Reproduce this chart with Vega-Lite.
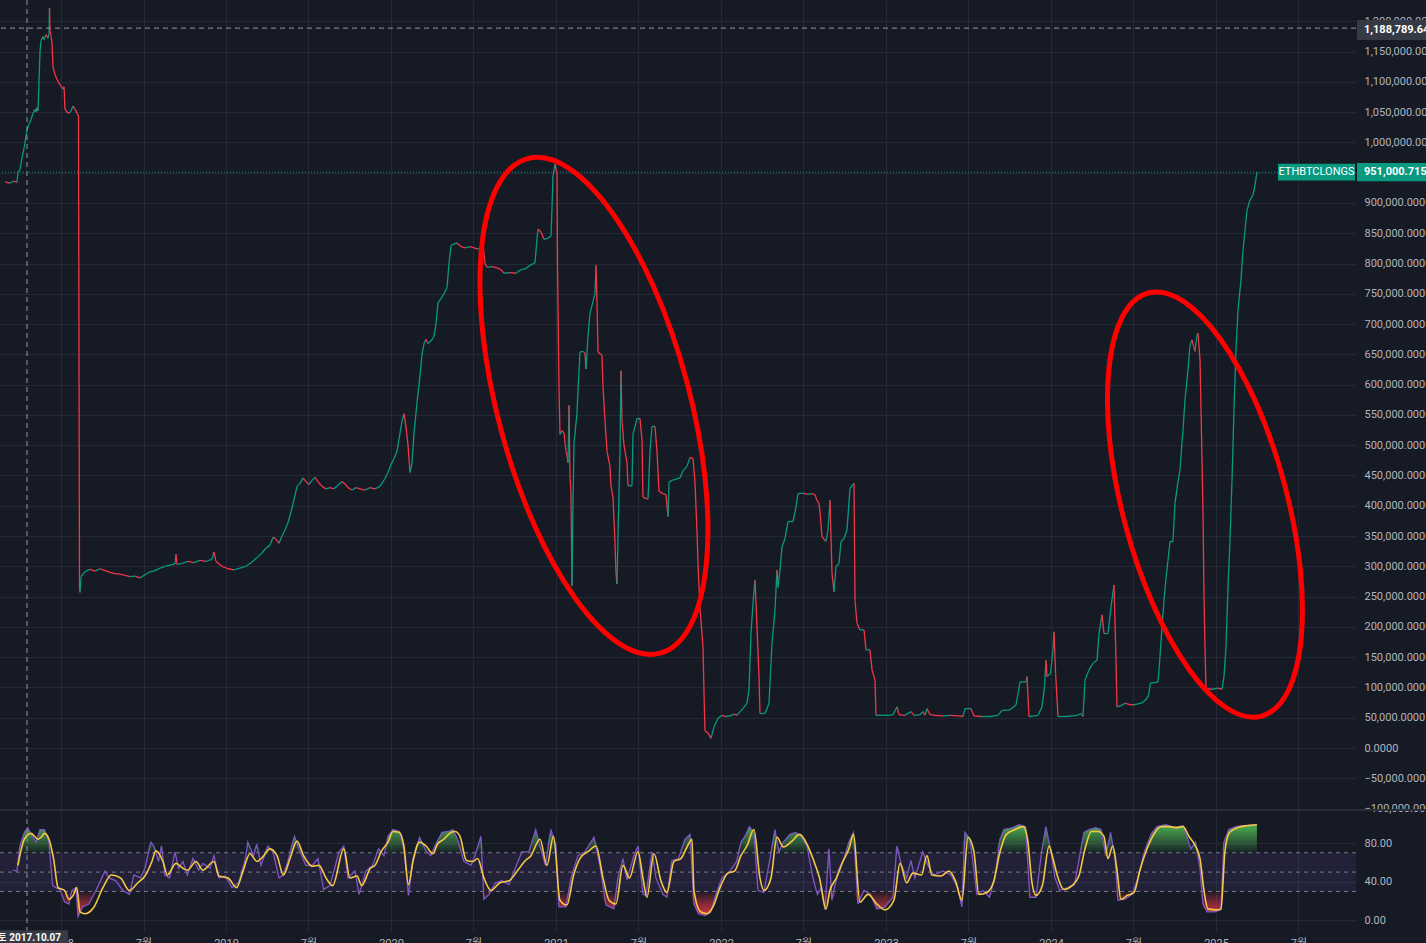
{
  "$schema": "https://vega.github.io/schema/vega-lite/v6.json",
  "width": 1356,
  "height": 932,
  "autosize": {"type": "none"},
  "padding": {"left": 0, "top": 0, "right": 70, "bottom": 11},
  "background": "#161a25",
  "config": {
    "view": {"stroke": null},
    "font": "Roboto, 'Noto Sans CJK KR', sans-serif",
    "axis": {"labelColor": "#b2b5be", "labelFontSize": 11, "gridColor": "#252936", "gridWidth": 1, "domain": false, "ticks": false}
  },
  "datasets": {
    "price": [
      {"t":2017.6606,"v":935000},{"t":2017.6909,"v":933000},{"t":2017.7151,"v":936000},{"t":2017.7333,"v":934000},{"t":2017.7394,"v":951000},{"t":2017.7515,"v":955000},{"t":2017.7636,"v":975000},{"t":2017.7758,"v":990000},{"t":2017.7818,"v":1000000},{"t":2017.7939,"v":1020000},{"t":2017.8061,"v":1030000},{"t":2017.8182,"v":1038000},{"t":2017.8303,"v":1048000},{"t":2017.8424,"v":1055000},{"t":2017.8485,"v":1050000},{"t":2017.8545,"v":1058000},{"t":2017.8606,"v":1052000},{"t":2017.8667,"v":1100000},{"t":2017.8727,"v":1150000},{"t":2017.8788,"v":1168000},{"t":2017.8909,"v":1175000},{"t":2017.8970,"v":1170000},{"t":2017.9091,"v":1178000},{"t":2017.9212,"v":1172000},{"t":2017.9273,"v":1180000},{"t":2017.9303,"v":1222000},{"t":2017.9333,"v":1185000},{"t":2017.9394,"v":1175000},{"t":2017.9455,"v":1165000},{"t":2017.9515,"v":1125000},{"t":2017.9636,"v":1112000},{"t":2017.9758,"v":1104000},{"t":2017.9879,"v":1098000},{"t":2018.0000,"v":1093000},{"t":2018.0121,"v":1088000},{"t":2018.0182,"v":1092000},{"t":2018.0242,"v":1055000},{"t":2018.0364,"v":1050000},{"t":2018.0485,"v":1048000},{"t":2018.0606,"v":1052000},{"t":2018.0727,"v":1060000},{"t":2018.0848,"v":1055000},{"t":2018.0970,"v":1048000},{"t":2018.1061,"v":1044000},{"t":2018.1121,"v":262000},{"t":2018.1152,"v":257000},{"t":2018.1212,"v":282000},{"t":2018.1333,"v":288000},{"t":2018.1515,"v":292000},{"t":2018.1758,"v":295000},{"t":2018.2061,"v":292000},{"t":2018.2364,"v":296000},{"t":2018.2667,"v":293000},{"t":2018.2970,"v":290000},{"t":2018.3273,"v":288000},{"t":2018.3576,"v":287000},{"t":2018.3879,"v":285000},{"t":2018.4182,"v":283000},{"t":2018.4485,"v":284000},{"t":2018.4788,"v":281000},{"t":2018.5091,"v":286000},{"t":2018.5394,"v":291000},{"t":2018.5697,"v":293000},{"t":2018.6000,"v":297000},{"t":2018.6303,"v":300000},{"t":2018.6606,"v":302000},{"t":2018.6909,"v":304000},{"t":2018.6970,"v":320000},{"t":2018.7030,"v":303000},{"t":2018.7333,"v":305000},{"t":2018.7697,"v":308000},{"t":2018.8061,"v":306000},{"t":2018.8424,"v":310000},{"t":2018.8788,"v":308000},{"t":2018.9152,"v":312000},{"t":2018.9273,"v":324000},{"t":2018.9394,"v":308000},{"t":2018.9758,"v":300000},{"t":2019.0121,"v":296000},{"t":2019.0485,"v":294000},{"t":2019.0848,"v":297000},{"t":2019.1212,"v":300000},{"t":2019.1576,"v":307000},{"t":2019.1939,"v":316000},{"t":2019.2182,"v":322000},{"t":2019.2424,"v":330000},{"t":2019.2667,"v":335000},{"t":2019.2848,"v":348000},{"t":2019.3030,"v":345000},{"t":2019.3212,"v":338000},{"t":2019.3394,"v":350000},{"t":2019.3576,"v":360000},{"t":2019.3758,"v":372000},{"t":2019.3939,"v":390000},{"t":2019.4121,"v":410000},{"t":2019.4303,"v":432000},{"t":2019.4485,"v":437000},{"t":2019.4667,"v":446000},{"t":2019.4848,"v":440000},{"t":2019.5030,"v":435000},{"t":2019.5212,"v":442000},{"t":2019.5394,"v":447000},{"t":2019.5576,"v":440000},{"t":2019.5818,"v":432000},{"t":2019.6061,"v":428000},{"t":2019.6303,"v":430000},{"t":2019.6545,"v":428000},{"t":2019.6788,"v":434000},{"t":2019.7030,"v":440000},{"t":2019.7212,"v":436000},{"t":2019.7394,"v":430000},{"t":2019.7636,"v":426000},{"t":2019.7879,"v":430000},{"t":2019.8121,"v":428000},{"t":2019.8424,"v":426000},{"t":2019.8727,"v":430000},{"t":2019.9030,"v":428000},{"t":2019.9333,"v":432000},{"t":2019.9636,"v":445000},{"t":2019.9818,"v":455000},{"t":2020.0000,"v":468000},{"t":2020.0182,"v":478000},{"t":2020.0364,"v":490000},{"t":2020.0545,"v":520000},{"t":2020.0667,"v":540000},{"t":2020.0788,"v":552000},{"t":2020.0909,"v":530000},{"t":2020.1030,"v":500000},{"t":2020.1152,"v":455000},{"t":2020.1273,"v":470000},{"t":2020.1394,"v":520000},{"t":2020.1576,"v":570000},{"t":2020.1758,"v":615000},{"t":2020.1879,"v":650000},{"t":2020.2000,"v":668000},{"t":2020.2121,"v":675000},{"t":2020.2242,"v":668000},{"t":2020.2424,"v":672000},{"t":2020.2606,"v":680000},{"t":2020.2727,"v":700000},{"t":2020.2848,"v":735000},{"t":2020.3030,"v":742000},{"t":2020.3212,"v":750000},{"t":2020.3394,"v":760000},{"t":2020.3515,"v":800000},{"t":2020.3636,"v":830000},{"t":2020.3818,"v":832000},{"t":2020.4000,"v":834000},{"t":2020.4242,"v":828000},{"t":2020.4485,"v":826000},{"t":2020.4788,"v":828000},{"t":2020.5030,"v":826000},{"t":2020.5273,"v":824000},{"t":2020.5455,"v":826000},{"t":2020.5576,"v":833000},{"t":2020.5697,"v":800000},{"t":2020.5818,"v":794000},{"t":2020.6121,"v":795000},{"t":2020.6424,"v":793000},{"t":2020.6667,"v":790000},{"t":2020.6848,"v":784000},{"t":2020.7212,"v":785000},{"t":2020.7576,"v":784000},{"t":2020.7818,"v":789000},{"t":2020.8182,"v":792000},{"t":2020.8424,"v":797000},{"t":2020.8727,"v":801000},{"t":2020.8848,"v":841000},{"t":2020.8909,"v":857000},{"t":2020.9091,"v":852000},{"t":2020.9273,"v":840000},{"t":2020.9515,"v":842000},{"t":2020.9697,"v":845000},{"t":2020.9758,"v":892000},{"t":2020.9818,"v":945000},{"t":2020.9939,"v":964000},{"t":2021.0061,"v":949000},{"t":2021.0091,"v":800000},{"t":2021.0182,"v":594000},{"t":2021.0242,"v":518000},{"t":2021.0364,"v":524000},{"t":2021.0485,"v":520000},{"t":2021.0606,"v":490000},{"t":2021.0667,"v":483000},{"t":2021.0727,"v":471000},{"t":2021.0788,"v":566000},{"t":2021.0848,"v":450000},{"t":2021.0909,"v":420000},{"t":2021.0970,"v":268000},{"t":2021.1030,"v":401000},{"t":2021.1091,"v":503000},{"t":2021.1273,"v":553000},{"t":2021.1333,"v":591000},{"t":2021.1455,"v":654000},{"t":2021.1636,"v":655000},{"t":2021.1758,"v":652000},{"t":2021.1818,"v":626000},{"t":2021.1939,"v":680000},{"t":2021.2061,"v":718000},{"t":2021.2242,"v":737000},{"t":2021.2364,"v":750000},{"t":2021.2424,"v":797000},{"t":2021.2485,"v":737000},{"t":2021.2545,"v":654000},{"t":2021.2727,"v":650000},{"t":2021.2788,"v":648000},{"t":2021.2848,"v":597000},{"t":2021.2970,"v":540000},{"t":2021.3091,"v":490000},{"t":2021.3273,"v":465000},{"t":2021.3333,"v":433000},{"t":2021.3455,"v":414000},{"t":2021.3576,"v":338000},{"t":2021.3636,"v":290000},{"t":2021.3697,"v":271000},{"t":2021.3758,"v":351000},{"t":2021.3879,"v":490000},{"t":2021.3939,"v":623000},{"t":2021.4000,"v":541000},{"t":2021.4121,"v":500000},{"t":2021.4303,"v":471000},{"t":2021.4364,"v":433000},{"t":2021.4606,"v":433000},{"t":2021.4667,"v":518000},{"t":2021.4909,"v":544000},{"t":2021.5091,"v":544000},{"t":2021.5212,"v":509000},{"t":2021.5273,"v":414000},{"t":2021.5576,"v":411000},{"t":2021.5697,"v":490000},{"t":2021.5818,"v":531000},{"t":2021.6000,"v":531000},{"t":2021.6121,"v":490000},{"t":2021.6242,"v":424000},{"t":2021.6485,"v":420000},{"t":2021.6667,"v":418000},{"t":2021.6788,"v":382000},{"t":2021.6848,"v":439000},{"t":2021.7030,"v":442000},{"t":2021.7273,"v":444000},{"t":2021.7515,"v":446000},{"t":2021.7697,"v":458000},{"t":2021.7939,"v":465000},{"t":2021.8121,"v":480000},{"t":2021.8303,"v":478000},{"t":2021.8424,"v":439000},{"t":2021.8545,"v":357000},{"t":2021.8606,"v":306000},{"t":2021.8727,"v":230000},{"t":2021.8909,"v":167000},{"t":2021.8970,"v":91000},{"t":2021.9030,"v":28000},{"t":2021.9212,"v":25000},{"t":2021.9394,"v":16000},{"t":2021.9455,"v":22000},{"t":2021.9576,"v":35000},{"t":2021.9818,"v":49000},{"t":2022.0061,"v":54000},{"t":2022.0303,"v":52000},{"t":2022.0545,"v":53000},{"t":2022.0788,"v":56000},{"t":2022.0970,"v":54000},{"t":2022.1152,"v":60000},{"t":2022.1333,"v":65000},{"t":2022.1576,"v":74000},{"t":2022.1697,"v":96000},{"t":2022.1818,"v":189000},{"t":2022.1939,"v":239000},{"t":2022.2061,"v":277000},{"t":2022.2182,"v":200000},{"t":2022.2303,"v":118000},{"t":2022.2364,"v":57000},{"t":2022.2667,"v":57000},{"t":2022.2909,"v":74000},{"t":2022.3091,"v":173000},{"t":2022.3273,"v":228000},{"t":2022.3394,"v":294000},{"t":2022.3455,"v":265000},{"t":2022.3576,"v":294000},{"t":2022.3697,"v":332000},{"t":2022.3879,"v":346000},{"t":2022.4061,"v":374000},{"t":2022.4364,"v":374000},{"t":2022.4545,"v":398000},{"t":2022.4667,"v":420000},{"t":2022.4970,"v":421000},{"t":2022.5273,"v":419000},{"t":2022.5515,"v":420000},{"t":2022.5697,"v":418000},{"t":2022.5818,"v":409000},{"t":2022.5939,"v":404000},{"t":2022.6000,"v":390000},{"t":2022.6121,"v":349000},{"t":2022.6364,"v":341000},{"t":2022.6485,"v":360000},{"t":2022.6606,"v":409000},{"t":2022.6727,"v":288000},{"t":2022.6848,"v":258000},{"t":2022.6970,"v":299000},{"t":2022.7152,"v":305000},{"t":2022.7273,"v":341000},{"t":2022.7455,"v":346000},{"t":2022.7636,"v":360000},{"t":2022.7818,"v":429000},{"t":2022.8061,"v":437000},{"t":2022.8121,"v":244000},{"t":2022.8242,"v":206000},{"t":2022.8424,"v":195000},{"t":2022.8667,"v":195000},{"t":2022.8788,"v":162000},{"t":2022.9030,"v":162000},{"t":2022.9152,"v":129000},{"t":2022.9333,"v":112000},{"t":2022.9394,"v":54000},{"t":2022.9758,"v":54000},{"t":2023.0121,"v":54000},{"t":2023.0424,"v":55000},{"t":2023.0667,"v":68000},{"t":2023.0788,"v":55000},{"t":2023.1152,"v":54000},{"t":2023.1515,"v":60000},{"t":2023.1697,"v":54000},{"t":2023.2061,"v":55000},{"t":2023.2242,"v":60000},{"t":2023.2364,"v":54000},{"t":2023.2485,"v":65000},{"t":2023.2667,"v":55000},{"t":2023.2970,"v":54000},{"t":2023.3455,"v":53000},{"t":2023.3879,"v":54000},{"t":2023.4424,"v":53000},{"t":2023.4667,"v":52000},{"t":2023.4788,"v":65000},{"t":2023.5152,"v":65000},{"t":2023.5333,"v":53000},{"t":2023.5818,"v":52000},{"t":2023.6303,"v":52000},{"t":2023.6788,"v":54000},{"t":2023.7030,"v":62000},{"t":2023.7515,"v":63000},{"t":2023.7879,"v":71000},{"t":2023.8121,"v":109000},{"t":2023.8485,"v":109000},{"t":2023.8545,"v":118000},{"t":2023.8667,"v":52000},{"t":2023.8970,"v":53000},{"t":2023.9212,"v":54000},{"t":2023.9455,"v":68000},{"t":2023.9606,"v":101000},{"t":2023.9697,"v":145000},{"t":2023.9758,"v":118000},{"t":2023.9970,"v":123000},{"t":2024.0121,"v":162000},{"t":2024.0182,"v":192000},{"t":2024.0279,"v":123000},{"t":2024.0424,"v":52000},{"t":2024.0848,"v":52000},{"t":2024.1273,"v":53000},{"t":2024.1576,"v":54000},{"t":2024.1818,"v":57000},{"t":2024.1939,"v":52000},{"t":2024.2061,"v":112000},{"t":2024.2303,"v":129000},{"t":2024.2545,"v":140000},{"t":2024.2788,"v":145000},{"t":2024.2909,"v":189000},{"t":2024.3091,"v":220000},{"t":2024.3212,"v":189000},{"t":2024.3455,"v":189000},{"t":2024.3636,"v":233000},{"t":2024.3818,"v":269000},{"t":2024.3921,"v":167000},{"t":2024.4000,"v":68000},{"t":2024.4242,"v":70000},{"t":2024.4485,"v":74000},{"t":2024.4727,"v":72000},{"t":2024.4970,"v":71000},{"t":2024.5273,"v":73000},{"t":2024.5552,"v":75000},{"t":2024.5758,"v":80000},{"t":2024.5909,"v":87000},{"t":2024.6030,"v":107000},{"t":2024.6242,"v":108000},{"t":2024.6485,"v":109000},{"t":2024.6606,"v":151000},{"t":2024.6727,"v":200000},{"t":2024.6848,"v":244000},{"t":2024.6970,"v":280000},{"t":2024.7091,"v":310000},{"t":2024.7212,"v":341000},{"t":2024.7394,"v":341000},{"t":2024.7515,"v":404000},{"t":2024.7697,"v":440000},{"t":2024.7818,"v":459000},{"t":2024.7939,"v":505000},{"t":2024.8000,"v":525000},{"t":2024.8121,"v":575000},{"t":2024.8303,"v":624000},{"t":2024.8424,"v":665000},{"t":2024.8545,"v":674000},{"t":2024.8727,"v":655000},{"t":2024.8848,"v":682000},{"t":2024.8909,"v":685000},{"t":2024.9030,"v":641000},{"t":2024.9091,"v":560000},{"t":2024.9212,"v":390000},{"t":2024.9273,"v":250000},{"t":2024.9333,"v":167000},{"t":2024.9394,"v":98000},{"t":2024.9758,"v":97000},{"t":2025.0121,"v":99000},{"t":2025.0364,"v":97000},{"t":2025.0485,"v":118000},{"t":2025.0606,"v":167000},{"t":2025.0727,"v":266000},{"t":2025.0848,"v":343000},{"t":2025.0970,"v":442000},{"t":2025.1091,"v":560000},{"t":2025.1212,"v":657000},{"t":2025.1333,"v":723000},{"t":2025.1515,"v":773000},{"t":2025.1636,"v":822000},{"t":2025.1758,"v":855000},{"t":2025.1879,"v":888000},{"t":2025.2061,"v":905000},{"t":2025.2242,"v":913000},{"t":2025.2364,"v":930000},{"t":2025.2485,"v":951000}
    ],
    "rsi": [
      {"t":2017.709,"r":52},{"t":2017.733,"r":51},{"t":2017.751,"r":77},{"t":2017.778,"r":91},{"t":2017.798,"r":96},{"t":2017.818,"r":89},{"t":2017.848,"r":81},{"t":2017.872,"r":94},{"t":2017.900,"r":94},{"t":2017.927,"r":81},{"t":2017.949,"r":36},{"t":2017.968,"r":34},{"t":2017.994,"r":32},{"t":2018.022,"r":19},{"t":2018.048,"r":17},{"t":2018.066,"r":31},{"t":2018.091,"r":34},{"t":2018.103,"r":4},{"t":2018.131,"r":14},{"t":2018.169,"r":17},{"t":2018.212,"r":31},{"t":2018.266,"r":51},{"t":2018.291,"r":44},{"t":2018.333,"r":41},{"t":2018.375,"r":31},{"t":2018.415,"r":27},{"t":2018.442,"r":47},{"t":2018.482,"r":44},{"t":2018.509,"r":54},{"t":2018.545,"r":81},{"t":2018.563,"r":77},{"t":2018.591,"r":61},{"t":2018.609,"r":77},{"t":2018.630,"r":47},{"t":2018.658,"r":44},{"t":2018.691,"r":71},{"t":2018.712,"r":54},{"t":2018.739,"r":61},{"t":2018.766,"r":47},{"t":2018.800,"r":64},{"t":2018.834,"r":52},{"t":2018.860,"r":59},{"t":2018.903,"r":54},{"t":2018.927,"r":67},{"t":2018.957,"r":44},{"t":2018.996,"r":46},{"t":2019.036,"r":34},{"t":2019.077,"r":39},{"t":2019.118,"r":64},{"t":2019.132,"r":81},{"t":2019.167,"r":67},{"t":2019.186,"r":79},{"t":2019.212,"r":57},{"t":2019.254,"r":77},{"t":2019.285,"r":71},{"t":2019.321,"r":44},{"t":2019.348,"r":47},{"t":2019.375,"r":61},{"t":2019.415,"r":87},{"t":2019.442,"r":74},{"t":2019.483,"r":57},{"t":2019.524,"r":57},{"t":2019.557,"r":64},{"t":2019.592,"r":32},{"t":2019.630,"r":36},{"t":2019.685,"r":71},{"t":2019.714,"r":77},{"t":2019.739,"r":44},{"t":2019.782,"r":51},{"t":2019.806,"r":27},{"t":2019.848,"r":51},{"t":2019.889,"r":57},{"t":2019.925,"r":74},{"t":2019.957,"r":67},{"t":2019.982,"r":87},{"t":2020.012,"r":94},{"t":2020.051,"r":92},{"t":2020.078,"r":74},{"t":2020.106,"r":26},{"t":2020.133,"r":64},{"t":2020.173,"r":86},{"t":2020.212,"r":72},{"t":2020.241,"r":67},{"t":2020.266,"r":77},{"t":2020.309,"r":91},{"t":2020.349,"r":92},{"t":2020.375,"r":94},{"t":2020.403,"r":84},{"t":2020.442,"r":61},{"t":2020.485,"r":57},{"t":2020.509,"r":67},{"t":2020.545,"r":87},{"t":2020.563,"r":22},{"t":2020.594,"r":27},{"t":2020.633,"r":39},{"t":2020.672,"r":41},{"t":2020.715,"r":37},{"t":2020.769,"r":61},{"t":2020.794,"r":71},{"t":2020.836,"r":71},{"t":2020.877,"r":94},{"t":2020.903,"r":77},{"t":2020.936,"r":57},{"t":2020.969,"r":94},{"t":2021.000,"r":77},{"t":2021.018,"r":14},{"t":2021.060,"r":14},{"t":2021.091,"r":44},{"t":2021.133,"r":67},{"t":2021.175,"r":71},{"t":2021.230,"r":86},{"t":2021.266,"r":57},{"t":2021.303,"r":16},{"t":2021.351,"r":12},{"t":2021.375,"r":44},{"t":2021.406,"r":64},{"t":2021.430,"r":42},{"t":2021.472,"r":67},{"t":2021.497,"r":77},{"t":2021.527,"r":27},{"t":2021.545,"r":26},{"t":2021.582,"r":71},{"t":2021.606,"r":44},{"t":2021.648,"r":27},{"t":2021.672,"r":24},{"t":2021.703,"r":62},{"t":2021.743,"r":64},{"t":2021.782,"r":84},{"t":2021.812,"r":89},{"t":2021.836,"r":17},{"t":2021.863,"r":7},{"t":2021.903,"r":5},{"t":2021.939,"r":9},{"t":2021.969,"r":27},{"t":2022.006,"r":44},{"t":2022.054,"r":51},{"t":2022.095,"r":61},{"t":2022.121,"r":81},{"t":2022.145,"r":87},{"t":2022.172,"r":97},{"t":2022.200,"r":91},{"t":2022.224,"r":31},{"t":2022.260,"r":29},{"t":2022.297,"r":64},{"t":2022.327,"r":94},{"t":2022.351,"r":71},{"t":2022.378,"r":81},{"t":2022.418,"r":89},{"t":2022.454,"r":91},{"t":2022.485,"r":87},{"t":2022.521,"r":77},{"t":2022.557,"r":44},{"t":2022.584,"r":27},{"t":2022.610,"r":34},{"t":2022.630,"r":11},{"t":2022.654,"r":74},{"t":2022.672,"r":21},{"t":2022.709,"r":51},{"t":2022.745,"r":64},{"t":2022.775,"r":81},{"t":2022.803,"r":91},{"t":2022.830,"r":17},{"t":2022.866,"r":31},{"t":2022.906,"r":27},{"t":2022.945,"r":12},{"t":2022.994,"r":14},{"t":2023.042,"r":24},{"t":2023.066,"r":77},{"t":2023.094,"r":57},{"t":2023.125,"r":44},{"t":2023.151,"r":62},{"t":2023.175,"r":44},{"t":2023.223,"r":71},{"t":2023.254,"r":57},{"t":2023.291,"r":47},{"t":2023.345,"r":51},{"t":2023.394,"r":47},{"t":2023.434,"r":34},{"t":2023.460,"r":14},{"t":2023.478,"r":91},{"t":2023.509,"r":84},{"t":2023.551,"r":27},{"t":2023.588,"r":31},{"t":2023.627,"r":24},{"t":2023.660,"r":44},{"t":2023.691,"r":84},{"t":2023.715,"r":94},{"t":2023.769,"r":96},{"t":2023.806,"r":99},{"t":2023.846,"r":97},{"t":2023.872,"r":24},{"t":2023.909,"r":24},{"t":2023.943,"r":71},{"t":2023.969,"r":97},{"t":2024.000,"r":71},{"t":2024.024,"r":44},{"t":2024.054,"r":31},{"t":2024.103,"r":34},{"t":2024.142,"r":37},{"t":2024.168,"r":61},{"t":2024.200,"r":91},{"t":2024.230,"r":94},{"t":2024.271,"r":96},{"t":2024.303,"r":94},{"t":2024.333,"r":67},{"t":2024.361,"r":91},{"t":2024.388,"r":64},{"t":2024.406,"r":21},{"t":2024.448,"r":22},{"t":2024.491,"r":27},{"t":2024.527,"r":44},{"t":2024.566,"r":71},{"t":2024.606,"r":89},{"t":2024.642,"r":97},{"t":2024.697,"r":99},{"t":2024.745,"r":96},{"t":2024.800,"r":98},{"t":2024.824,"r":87},{"t":2024.848,"r":74},{"t":2024.875,"r":81},{"t":2024.903,"r":54},{"t":2024.921,"r":17},{"t":2024.945,"r":9},{"t":2024.991,"r":9},{"t":2025.030,"r":11},{"t":2025.048,"r":81},{"t":2025.077,"r":94},{"t":2025.121,"r":97},{"t":2025.169,"r":98},{"t":2025.248,"r":99}
    ],
    "ma": [
      {"t":2017.739,"m":57},{"t":2017.778,"m":84},{"t":2017.818,"m":90},{"t":2017.860,"m":84},{"t":2017.885,"m":87},{"t":2017.900,"m":90},{"t":2017.927,"m":84},{"t":2017.955,"m":64},{"t":2017.982,"m":34},{"t":2018.022,"m":31},{"t":2018.048,"m":22},{"t":2018.077,"m":27},{"t":2018.095,"m":34},{"t":2018.115,"m":9},{"t":2018.145,"m":7},{"t":2018.200,"m":14},{"t":2018.254,"m":34},{"t":2018.306,"m":47},{"t":2018.360,"m":44},{"t":2018.415,"m":31},{"t":2018.466,"m":39},{"t":2018.509,"m":46},{"t":2018.551,"m":61},{"t":2018.575,"m":72},{"t":2018.618,"m":61},{"t":2018.645,"m":47},{"t":2018.697,"m":59},{"t":2018.739,"m":54},{"t":2018.766,"m":52},{"t":2018.818,"m":61},{"t":2018.860,"m":52},{"t":2018.927,"m":61},{"t":2018.957,"m":46},{"t":2019.012,"m":44},{"t":2019.064,"m":34},{"t":2019.103,"m":51},{"t":2019.145,"m":69},{"t":2019.188,"m":61},{"t":2019.224,"m":66},{"t":2019.266,"m":74},{"t":2019.309,"m":67},{"t":2019.348,"m":47},{"t":2019.388,"m":64},{"t":2019.430,"m":82},{"t":2019.470,"m":67},{"t":2019.524,"m":56},{"t":2019.563,"m":57},{"t":2019.606,"m":44},{"t":2019.646,"m":36},{"t":2019.714,"m":74},{"t":2019.751,"m":44},{"t":2019.794,"m":46},{"t":2019.822,"m":36},{"t":2019.875,"m":54},{"t":2019.903,"m":57},{"t":2019.943,"m":72},{"t":2019.982,"m":81},{"t":2020.012,"m":92},{"t":2020.051,"m":91},{"t":2020.078,"m":77},{"t":2020.106,"m":37},{"t":2020.133,"m":61},{"t":2020.173,"m":81},{"t":2020.212,"m":77},{"t":2020.254,"m":69},{"t":2020.282,"m":79},{"t":2020.321,"m":84},{"t":2020.363,"m":91},{"t":2020.388,"m":92},{"t":2020.418,"m":87},{"t":2020.457,"m":62},{"t":2020.497,"m":61},{"t":2020.525,"m":64},{"t":2020.563,"m":44},{"t":2020.606,"m":31},{"t":2020.660,"m":39},{"t":2020.715,"m":41},{"t":2020.769,"m":52},{"t":2020.809,"m":61},{"t":2020.848,"m":67},{"t":2020.903,"m":84},{"t":2020.945,"m":57},{"t":2020.985,"m":87},{"t":2021.024,"m":21},{"t":2021.066,"m":16},{"t":2021.107,"m":47},{"t":2021.145,"m":64},{"t":2021.200,"m":72},{"t":2021.242,"m":77},{"t":2021.285,"m":44},{"t":2021.321,"m":21},{"t":2021.363,"m":17},{"t":2021.406,"m":57},{"t":2021.445,"m":44},{"t":2021.497,"m":71},{"t":2021.527,"m":44},{"t":2021.551,"m":24},{"t":2021.594,"m":69},{"t":2021.636,"m":41},{"t":2021.672,"m":29},{"t":2021.715,"m":61},{"t":2021.757,"m":64},{"t":2021.797,"m":77},{"t":2021.824,"m":84},{"t":2021.836,"m":31},{"t":2021.876,"m":9},{"t":2021.915,"m":7},{"t":2021.951,"m":14},{"t":2021.994,"m":34},{"t":2022.042,"m":49},{"t":2022.082,"m":51},{"t":2022.121,"m":67},{"t":2022.157,"m":77},{"t":2022.200,"m":94},{"t":2022.236,"m":44},{"t":2022.260,"m":31},{"t":2022.303,"m":44},{"t":2022.339,"m":86},{"t":2022.378,"m":76},{"t":2022.430,"m":82},{"t":2022.476,"m":89},{"t":2022.521,"m":79},{"t":2022.557,"m":64},{"t":2022.597,"m":44},{"t":2022.636,"m":12},{"t":2022.660,"m":31},{"t":2022.700,"m":44},{"t":2022.739,"m":61},{"t":2022.775,"m":74},{"t":2022.803,"m":89},{"t":2022.842,"m":19},{"t":2022.891,"m":27},{"t":2022.945,"m":17},{"t":2022.994,"m":11},{"t":2023.048,"m":21},{"t":2023.085,"m":59},{"t":2023.125,"m":39},{"t":2023.163,"m":49},{"t":2023.215,"m":47},{"t":2023.248,"m":67},{"t":2023.278,"m":47},{"t":2023.331,"m":46},{"t":2023.382,"m":51},{"t":2023.421,"m":41},{"t":2023.460,"m":21},{"t":2023.497,"m":86},{"t":2023.533,"m":71},{"t":2023.563,"m":27},{"t":2023.612,"m":29},{"t":2023.654,"m":41},{"t":2023.691,"m":71},{"t":2023.730,"m":89},{"t":2023.782,"m":94},{"t":2023.833,"m":97},{"t":2023.858,"m":84},{"t":2023.885,"m":39},{"t":2023.909,"m":26},{"t":2023.949,"m":37},{"t":2023.988,"m":77},{"t":2024.012,"m":64},{"t":2024.039,"m":46},{"t":2024.078,"m":32},{"t":2024.127,"m":36},{"t":2024.169,"m":46},{"t":2024.206,"m":74},{"t":2024.245,"m":92},{"t":2024.285,"m":92},{"t":2024.321,"m":87},{"t":2024.345,"m":64},{"t":2024.374,"m":77},{"t":2024.400,"m":52},{"t":2024.424,"m":22},{"t":2024.463,"m":26},{"t":2024.503,"m":29},{"t":2024.539,"m":52},{"t":2024.594,"m":79},{"t":2024.630,"m":91},{"t":2024.669,"m":97},{"t":2024.721,"m":97},{"t":2024.760,"m":96},{"t":2024.800,"m":97},{"t":2024.836,"m":87},{"t":2024.875,"m":77},{"t":2024.903,"m":64},{"t":2024.927,"m":31},{"t":2024.951,"m":12},{"t":2025.006,"m":11},{"t":2025.030,"m":12},{"t":2025.054,"m":71},{"t":2025.082,"m":91},{"t":2025.133,"m":96},{"t":2025.185,"m":98},{"t":2025.248,"m":99}
    ]
  },
  "resolve": {"scale": {"y": "independent"}},
  "layer": [
    {
      "data": {"name": "price"},
      "transform": [
        {"window": [{"op": "lead", "field": "t", "as": "t2"}, {"op": "lead", "field": "v", "as": "v2"}], "sort": [{"field": "t", "order": "ascending"}]},
        {"filter": "isValid(datum.t2)"}
      ],
      "mark": {"type": "rule", "strokeWidth": 1.3},
      "encoding": {
        "x": {"field": "t", "type": "quantitative", "scale": {"domain": [2017.6303, 2025.8485], "nice": false, "zero": false},
          "axis": {"orient": "bottom", "title": null, "values": [2018, 2018.5, 2019, 2019.5, 2020, 2020.5, 2021, 2021.5, 2022, 2022.5, 2023, 2023.5, 2024, 2024.5, 2025, 2025.5],
            "labelExpr": "datum.value % 1 == 0 ? format(datum.value, 'd') : '7월'", "labelPadding": 5, "grid": true, "labelFlush": false, "labelOverlap": false, "labelColor": "#b2b5be", "labelFontSize": 11}},
        "x2": {"field": "t2"},
        "y": {"field": "v", "type": "quantitative", "scale": {"domain": [-303850, 1235220], "nice": false, "zero": false},
          "axis": {"orient": "right", "title": null, "values": [-100000, -50000, 0, 50000, 100000, 150000, 200000, 250000, 300000, 350000, 400000, 450000, 500000, 550000, 600000, 650000, 700000, 750000, 800000, 850000, 900000, 950000, 1000000, 1050000, 1100000, 1150000, 1200000],
            "format": ",.4f", "labelPadding": 8, "grid": true, "labelFlush": false, "labelOverlap": false, "labelBound": false, "labelColor": "#b2b5be", "labelFontSize": 11}},
        "y2": {"field": "v2"},
        "color": {"condition": {"test": "datum.v2 >= datum.v", "value": "#089981"}, "value": "#f23645"}
      }
    },
    {
      "data": {"values": [{}]},
      "mark": {"type": "rule", "color": "#9598a1", "strokeDash": [5, 4], "strokeWidth": 1},
      "encoding": {"x": {"datum": 2017.7939, "type": "quantitative", "scale": {"domain": [2017.6303, 2025.8485], "nice": false, "zero": false}}}
    },
    {
      "data": {"values": [{}]},
      "mark": {"type": "rule", "color": "#9598a1", "strokeDash": [5, 4], "strokeWidth": 1},
      "encoding": {"y": {"datum": 1188789.64, "type": "quantitative", "scale": {"domain": [-303850, 1235220], "nice": false, "zero": false}, "axis": null}}
    },
    {
      "data": {"values": [{}]},
      "mark": {"type": "rule", "color": "#089981", "strokeDash": [1, 2], "strokeWidth": 1},
      "encoding": {"y": {"datum": 951000.7159, "type": "quantitative", "scale": {"domain": [-303850, 1235220], "nice": false, "zero": false}, "axis": null}}
    },
    {
      "data": {"values": [{}]},
      "mark": {"type": "rule", "color": "#2a2e39", "strokeWidth": 2},
      "encoding": {
        "x": {"datum": 2017.6, "type": "quantitative", "scale": {"domain": [2017.6303, 2025.8485], "nice": false, "zero": false}},
        "x2": {"datum": 2026.4},
        "y": {"datum": -102400, "type": "quantitative", "scale": {"domain": [-303850, 1235220], "nice": false, "zero": false}, "axis": null}
      }
    },
    {
      "data": {"values": [{}]},
      "mark": {"type": "point", "shape": "M0,-1C0.2071,-1 0.375,-0.5523 0.375,0C0.375,0.5523 0.2071,1 0,1C-0.2071,1 -0.375,0.5523 -0.375,0C-0.375,-0.5523 -0.2071,-1 0,-1Z", "filled": false, "stroke": "#ff0000", "strokeWidth": 5, "opacity": 1, "angle": -15, "size": 262144},
      "encoding": {
        "x": {"datum": 2021.23, "type": "quantitative", "scale": {"domain": [2017.6303, 2025.8485], "nice": false, "zero": false}},
        "y": {"datum": 565000, "type": "quantitative", "scale": {"domain": [-303850, 1235220], "nice": false, "zero": false}, "axis": null}
      }
    },
    {
      "data": {"values": [{}]},
      "mark": {"type": "point", "shape": "M0,-1C0.2071,-1 0.375,-0.5523 0.375,0C0.375,0.5523 0.2071,1 0,1C-0.2071,1 -0.375,0.5523 -0.375,0C-0.375,-0.5523 -0.2071,-1 0,-1Z", "filled": false, "stroke": "#ff0000", "strokeWidth": 5, "opacity": 1, "angle": -15, "size": 191844},
      "encoding": {
        "x": {"datum": 2024.933, "type": "quantitative", "scale": {"domain": [2017.6303, 2025.8485], "nice": false, "zero": false}},
        "y": {"datum": 402000, "type": "quantitative", "scale": {"domain": [-303850, 1235220], "nice": false, "zero": false}, "axis": null}
      }
    },
    {
      "data": {"values": [{}]},
      "mark": {"type": "rect", "color": "#089981"},
      "encoding": {
        "x": {"datum": 2025.3758, "type": "quantitative", "scale": {"domain": [2017.6303, 2025.8485], "nice": false, "zero": false}},
        "x2": {"datum": 2025.8424},
        "y": {"datum": 965000, "type": "quantitative", "scale": {"domain": [-303850, 1235220], "nice": false, "zero": false}, "axis": null},
        "y2": {"datum": 937000}
      }
    },
    {
      "data": {"values": [{}]},
      "mark": {"type": "rect", "color": "#089981"},
      "encoding": {
        "x": {"datum": 2025.8545, "type": "quantitative", "scale": {"domain": [2017.6303, 2025.8485], "nice": false, "zero": false}},
        "x2": {"datum": 2026.4},
        "y": {"datum": 966000, "type": "quantitative", "scale": {"domain": [-303850, 1235220], "nice": false, "zero": false}, "axis": null},
        "y2": {"datum": 936000}
      }
    },
    {
      "data": {"values": [{}]},
      "mark": {"type": "rect", "color": "#363a45"},
      "encoding": {
        "x": {"datum": 2025.8545, "type": "quantitative", "scale": {"domain": [2017.6303, 2025.8485], "nice": false, "zero": false}},
        "x2": {"datum": 2026.4},
        "y": {"datum": 1202200, "type": "quantitative", "scale": {"domain": [-303850, 1235220], "nice": false, "zero": false}, "axis": null},
        "y2": {"datum": 1169170}
      }
    },
    {
      "data": {"values": [{}]},
      "mark": {"type": "text", "text": "ETHBTCLONGS", "color": "#ffffff", "fontSize": 11, "align": "center", "baseline": "middle"},
      "encoding": {
        "x": {"datum": 2025.6091, "type": "quantitative", "scale": {"domain": [2017.6303, 2025.8485], "nice": false, "zero": false}},
        "y": {"datum": 951000, "type": "quantitative", "scale": {"domain": [-303850, 1235220], "nice": false, "zero": false}, "axis": null}
      }
    },
    {
      "data": {"values": [{}]},
      "mark": {"type": "text", "text": "951,000.7159", "color": "#ffffff", "fontSize": 11, "fontWeight": "bold", "align": "left", "baseline": "middle"},
      "encoding": {
        "x": {"datum": 2025.897, "type": "quantitative", "scale": {"domain": [2017.6303, 2025.8485], "nice": false, "zero": false}},
        "y": {"datum": 951000, "type": "quantitative", "scale": {"domain": [-303850, 1235220], "nice": false, "zero": false}, "axis": null}
      }
    },
    {
      "data": {"values": [{}]},
      "mark": {"type": "text", "text": "1,188,789.64", "color": "#ffffff", "fontSize": 11, "fontWeight": "bold", "align": "left", "baseline": "middle"},
      "encoding": {
        "x": {"datum": 2025.897, "type": "quantitative", "scale": {"domain": [2017.6303, 2025.8485], "nice": false, "zero": false}},
        "y": {"datum": 1185700, "type": "quantitative", "scale": {"domain": [-303850, 1235220], "nice": false, "zero": false}, "axis": null}
      }
    },
    {
      "data": {"values": [{}]},
      "mark": {"type": "rect", "color": "#7e57c2", "opacity": 0.12},
      "encoding": {
        "x": {"datum": 2017.6303, "type": "quantitative", "scale": {"domain": [2017.6303, 2025.8485], "nice": false, "zero": false}},
        "x2": {"datum": 2025.8485},
        "y": {"datum": 70, "type": "quantitative", "scale": {"domain": [-11.9, 951.4], "nice": false, "zero": false}, "axis": null},
        "y2": {"datum": 30}
      }
    },
    {
      "data": {"values": [{"level": 80}, {"level": 40}, {"level": 0}]},
      "mark": {"type": "rule", "opacity": 0},
      "encoding": {
        "y": {"field": "level", "type": "quantitative", "scale": {"domain": [-11.9, 951.4], "nice": false, "zero": false},
          "axis": {"orient": "right", "title": null, "values": [0, 40, 80], "format": ".2f", "labelPadding": 8, "grid": true, "labelFlush": false, "labelColor": "#b2b5be", "labelFontSize": 11}}
      }
    },
    {
      "data": {"values": [{"level": 70}, {"level": 50}, {"level": 30}]},
      "mark": {"type": "rule", "color": "#787b86", "strokeDash": [4, 4], "strokeWidth": 1},
      "encoding": {
        "y": {"field": "level", "type": "quantitative", "scale": {"domain": [-11.9, 951.4], "nice": false, "zero": false}, "axis": null}
      }
    },
    {
      "data": {"name": "rsi"},
      "mark": {"type": "area", "color": {"gradient": "linear", "x1": 0, "y1": 0, "x2": 0, "y2": 1, "stops": [{"offset": 0, "color": "#4caf50"}, {"offset": 1, "color": "rgba(76,175,80,0.05)"}]}},
      "encoding": {
        "x": {"field": "t", "type": "quantitative", "scale": {"domain": [2017.6303, 2025.8485], "nice": false, "zero": false}},
        "y": {"field": "r", "type": "quantitative", "scale": {"domain": [70, 100], "range": [852.8, 823.75], "clamp": true, "nice": false, "zero": false}, "axis": null},
        "y2": {"datum": 70}
      }
    },
    {
      "data": {"name": "rsi"},
      "mark": {"type": "area", "color": {"gradient": "linear", "x1": 0, "y1": 0, "x2": 0, "y2": 1, "stops": [{"offset": 0, "color": "rgba(242,54,69,0.05)"}, {"offset": 1, "color": "#e0344c"}]}},
      "encoding": {
        "x": {"field": "t", "type": "quantitative", "scale": {"domain": [2017.6303, 2025.8485], "nice": false, "zero": false}},
        "y": {"field": "r", "type": "quantitative", "scale": {"domain": [0, 30], "range": [920.5, 891.47], "clamp": true, "nice": false, "zero": false}, "axis": null},
        "y2": {"datum": 30}
      }
    },
    {
      "data": {"name": "rsi"},
      "mark": {"type": "line", "color": "#7e57c2", "strokeWidth": 1.3},
      "encoding": {
        "x": {"field": "t", "type": "quantitative", "scale": {"domain": [2017.6303, 2025.8485], "nice": false, "zero": false}},
        "y": {"field": "r", "type": "quantitative", "scale": {"domain": [-11.9, 951.4], "nice": false, "zero": false}, "axis": null}
      }
    },
    {
      "data": {"name": "ma"},
      "mark": {"type": "line", "color": "#f5c842", "strokeWidth": 1.6, "interpolate": "monotone"},
      "encoding": {
        "x": {"field": "t", "type": "quantitative", "scale": {"domain": [2017.6303, 2025.8485], "nice": false, "zero": false}},
        "y": {"field": "m", "type": "quantitative", "scale": {"domain": [-11.9, 951.4], "nice": false, "zero": false}, "axis": null}
      }
    },
    {
      "data": {"values": [{}]},
      "mark": {"type": "rect", "color": "#363a45"},
      "encoding": {
        "x": {"datum": 2017.55, "type": "quantitative", "scale": {"domain": [2017.6303, 2025.8485], "nice": false, "zero": false}},
        "x2": {"datum": 2018.0424},
        "y": {"datum": -10, "type": "quantitative", "scale": {"domain": [-11.9, 951.4], "nice": false, "zero": false}, "axis": null},
        "y2": {"datum": -26}
      }
    },
    {
      "data": {"values": [{}]},
      "mark": {"type": "text", "text": "토 2017.10.07", "color": "#ffffff", "fontSize": 10, "fontWeight": "bold", "align": "right", "baseline": "middle"},
      "encoding": {
        "x": {"datum": 2018.0, "type": "quantitative", "scale": {"domain": [2017.6303, 2025.8485], "nice": false, "zero": false}},
        "y": {"datum": -18.5, "type": "quantitative", "scale": {"domain": [-11.9, 951.4], "nice": false, "zero": false}, "axis": null}
      }
    }
  ]
}
